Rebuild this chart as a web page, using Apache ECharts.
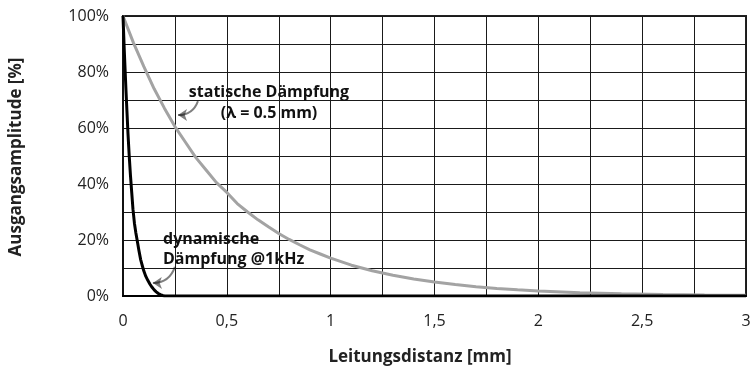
<!DOCTYPE html>
<html>
<head>
<meta charset="utf-8">
<script src="https://cdn.jsdelivr.net/npm/echarts@6/dist/echarts.min.js"></script>
<style>
  html, body { margin: 0; padding: 0; background: #fff; }
  #chart { width: 756px; height: 376px; }
</style>
</head>
<body>
<div id="chart"></div>
<script>
// Werte
var statX = [0, 0.05, 0.1, 0.15, 0.2, 0.25, 0.3, 0.35, 0.4, 0.45, 0.5, 0.55, 0.6, 0.65, 0.7, 0.75, 0.8, 0.85, 0.9, 0.95, 1.0,
             1.1, 1.2, 1.3, 1.4, 1.5, 1.6, 1.7, 1.8, 1.9, 2.0, 2.2, 2.4, 2.6, 2.8, 3.0];
var statY = [100, 90.5, 82, 74, 67, 60.5, 55, 49.5, 45, 40.5, 37, 33, 30, 27.2, 24.7, 22.3, 20.2, 18.3, 16.5, 15, 13.5,
             11, 9, 7.4, 6.1, 5, 4.1, 3.3, 2.7, 2.2, 1.8, 1.2, 0.8, 0.55, 0.37, 0.25];
var dynX = [0, 0.003, 0.006, 0.01, 0.014, 0.019, 0.024, 0.03, 0.036, 0.042, 0.048, 0.055, 0.062, 0.068, 0.076, 0.085,
            0.093, 0.1, 0.11, 0.12, 0.13, 0.14, 0.15, 0.16, 0.17, 0.18, 0.19, 0.2, 0.25, 3];
var dynY = [100, 94, 88, 81, 74, 66, 58, 50, 43, 37, 31, 26, 22.5, 20, 16.5, 13,
            10.8, 9, 7, 5.5, 4.2, 3.1, 2.2, 1.5, 0.9, 0.5, 0.2, 0, 0, 0];
var xTicks = [0, 0.5, 1, 1.5, 2, 2.5, 3];
var yTicks = [0, 20, 40, 60, 80, 100];

function pairs(xs, ys) {
  return xs.map(function (x, i) { return [x, ys[i]]; });
}

var font = '"Open Sans", "Noto Sans", sans-serif';
var chart = echarts.init(document.getElementById('chart'));

chart.setOption({
  animation: false,
  grid: { left: 123, right: 10, top: 16, bottom: 80, show: true, borderColor: '#222', borderWidth: 2 },
  xAxis: {
    type: 'value', min: 0, max: 3, interval: 0.25,
    axisLine: { show: true, lineStyle: { color: '#000', width: 2 } },
    axisTick: { show: false },
    splitLine: { show: true, lineStyle: { color: '#1a1a1a', width: 1 } },
    axisLabel: {
      color: '#222', fontSize: 16, fontFamily: font, margin: 17,
      formatter: function (v) {
        return xTicks.indexOf(v) >= 0 ? String(v).replace('.', ',') : '';
      }
    }
  },
  yAxis: {
    type: 'value', min: 0, max: 100, interval: 10,
    axisLine: { show: true, lineStyle: { color: '#111', width: 2 } },
    axisTick: { show: false },
    splitLine: { show: true, lineStyle: { color: '#1a1a1a', width: 1 } },
    axisLabel: {
      color: '#222', fontSize: 16, fontFamily: font, margin: 14,
      formatter: function (v) { return yTicks.indexOf(v) >= 0 ? v + '%' : ''; }
    }
  },
  graphic: [
    { type: 'text', x: 420, y: 357,
      style: { text: 'Leitungsdistanz [mm]', font: 'bold 17px ' + font, fill: '#222', align: 'center', verticalAlign: 'middle' } },
    { type: 'text', x: 8, y: 157, rotation: Math.PI / 2,
      style: { text: 'Ausgangsamplitude [%]', font: 'bold 17px ' + font, fill: '#222', align: 'center', verticalAlign: 'top' } },
    { type: 'text', x: 269, y: 92, z: 10,
      style: { text: 'statische Dämpfung', font: 'bold 16px ' + font, fill: '#111', align: 'center', verticalAlign: 'middle' } },
    { type: 'text', x: 269, y: 113, z: 10,
      style: { text: '(λ = 0.5 mm)', font: 'bold 16px ' + font, fill: '#111', align: 'center', verticalAlign: 'middle' } },
    { type: 'text', x: 163, y: 239, z: 10,
      style: { text: 'dynamische', font: 'bold 16px ' + font, fill: '#111', verticalAlign: 'middle' } },
    { type: 'text', x: 163, y: 259, z: 10,
      style: { text: 'Dämpfung @1kHz', font: 'bold 16px ' + font, fill: '#111', verticalAlign: 'middle' } }
  ],
  series: [
    {
      type: 'line', data: pairs(statX, statY), smooth: false, showSymbol: false, z: 3,
      lineStyle: { color: '#a3a3a3', width: 3 }
    },
    {
      type: 'line', data: pairs(dynX, dynY), smooth: false, showSymbol: false, z: 4,
      lineStyle: { color: '#000', width: 3, join: 'round' }
    },
    {
      type: 'lines', coordinateSystem: 'cartesian2d', z: 5,
      symbol: ['none', 'arrow'], symbolSize: [0, 9],
      lineStyle: { color: '#000', width: 2, curveness: 0.35 },
      data: [
        { coords: [[0.361, 69.6], [0.265, 64.6]] },
        { coords: [[0.25, 10.4], [0.144, 4.6]] }
      ]
    }
  ]
});
</script>
</body>
</html>
